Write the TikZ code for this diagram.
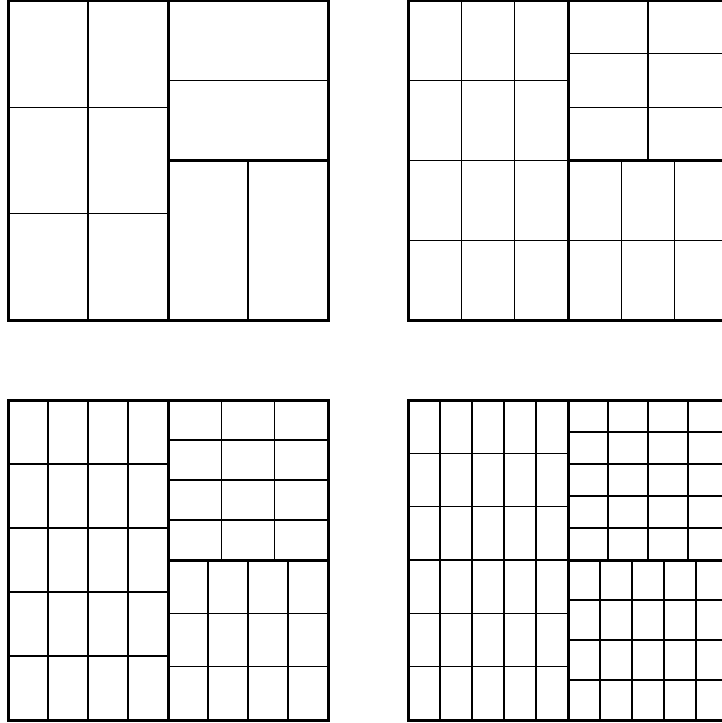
\documentclass[tikz,border=0pt]{standalone}
\tikzset{
  gridline/.style={line width=1.2pt, black},
  borderline/.style={line width=3pt, black},
}
\newcommand\gridpanel[3]{%
  \begin{scope}[shift={(#1,#2)}]
    \pgfmathtruncatemacro\gpa{#3+1}
    \pgfmathtruncatemacro\gpb{#3+2}
    % left half
    \foreach \i in {0,...,\gpa} \draw[gridline] ({\i*160/\gpa},0) -- ({\i*160/\gpa},320);
    \foreach \i in {0,...,\gpb} \draw[gridline] (0,{\i*320/\gpb}) -- (160,{\i*320/\gpb});
    % right top
    \foreach \i in {0,...,#3} \draw[gridline] ({160+\i*160/#3},0) -- ({160+\i*160/#3},160);
    \foreach \i in {0,...,\gpa} \draw[gridline] (160,{\i*160/\gpa}) -- (320,{\i*160/\gpa});
    % right bottom
    \foreach \i in {0,...,\gpa} \draw[gridline] ({160+\i*160/\gpa},160) -- ({160+\i*160/\gpa},320);
    \foreach \i in {0,...,#3} \draw[gridline] (160,{160+\i*160/#3}) -- (320,{160+\i*160/#3});
    % thick borders
    \draw[borderline] (0,0) rectangle (320,320);
    \draw[borderline] (160,0) -- (160,320);
    \draw[borderline] (160,160) -- (320,160);
  \end{scope}}
\begin{document}
\begin{tikzpicture}[x=1pt,y=-1pt]
  \fill[white] (0,0) rectangle (722,723);
  \useasboundingbox (0,0) rectangle (722,723);
  \clip (0,0) rectangle (722,723);
  \gridpanel{8}{0.5}{1}
  \gridpanel{408}{0.5}{2}
  \gridpanel{8}{400}{3}
  \gridpanel{408}{400}{4}
\end{tikzpicture}
\end{document}
